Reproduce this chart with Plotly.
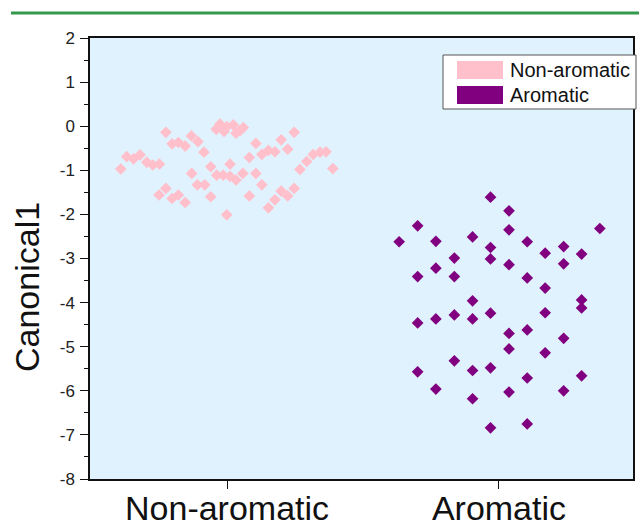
import plotly.graph_objects as go

categories = ["Non-aromatic", "Aromatic"]
y_ticks = [-8, -7, -6, -5, -4, -3, -2, -1, 0, 1, 2]

# Non-aromatic: horizontal jitter offset (in category units) and Canonical1 values
non_jitter = [-0.391, -0.369, -0.344, -0.320, -0.295, -0.273, -0.249, -0.225, -0.202, -0.179,
              -0.154, -0.131, -0.107, -0.085, -0.060, -0.040, -0.026, -0.011, -0.001, 0.023,
              0.033, 0.048, 0.060, -0.130, -0.109, -0.082, -0.060, -0.038, -0.014, 0.011,
              0.011, 0.033, 0.058, -0.001, 0.082, 0.106, 0.106, 0.082, 0.128, 0.128,
              0.152, 0.176, 0.152, 0.176, 0.199, 0.223, 0.247, 0.199, 0.223, 0.247,
              0.268, 0.293, 0.317, 0.342, 0.364, 0.389, -0.250, -0.225, -0.202, -0.179,
              -0.154]
non_values = [-0.97, -0.69, -0.74, -0.65, -0.82, -0.88, -0.86, -0.14, -0.40, -0.37,
              -0.45, -0.22, -0.35, -0.59, -0.92, -0.07, 0.05, -0.12, -0.01, 0.03,
              -0.16, -0.10, -0.03, -1.07, -1.33, -1.33, -1.60, -1.11, -1.11, -0.86,
              -1.14, -1.22, -1.07, -2.01, -0.71, -0.39, -1.07, -1.58, -0.64, -1.33,
              -0.55, -0.58, -1.85, -1.67, -0.31, -0.52, -0.14, -1.47, -1.58, -1.41,
              -0.98, -0.80, -0.64, -0.59, -0.58, -0.96, -1.56, -1.41, -1.64, -1.56,
              -1.73]

# Aromatic: horizontal jitter offset and Canonical1 values
aro_jitter = [-0.031, 0.037, -0.299, -0.367, -0.232, -0.097, 0.037, 0.104, 0.371, -0.031,
              -0.031, 0.170, 0.238, 0.304, -0.164, -0.232, 0.037, 0.238, -0.299, -0.164,
              0.104, 0.170, -0.097, 0.304, 0.304, 0.170, -0.031, -0.164, -0.232, -0.299,
              -0.097, 0.037, 0.104, 0.238, 0.037, 0.170, -0.164, -0.097, -0.031, -0.299,
              0.104, 0.304, -0.232, 0.037, 0.238, -0.097, -0.031, 0.104]
aro_values = [-1.61, -1.92, -2.26, -2.62, -2.61, -2.51, -2.35, -2.62, -2.32, -2.75,
              -3.01, -2.88, -2.73, -2.90, -2.99, -3.22, -3.14, -3.12, -3.41, -3.41,
              -3.44, -3.67, -3.96, -3.94, -4.12, -4.23, -4.24, -4.28, -4.37, -4.46,
              -4.37, -4.70, -4.62, -4.81, -5.05, -5.14, -5.32, -5.54, -5.48, -5.57,
              -5.71, -5.66, -5.96, -6.03, -6.00, -6.18, -6.84, -6.75]

colors = ["#FFC0CB", "#800080"]
FONT = "Arial, Liberation Sans, sans-serif"

fig = go.Figure()
for i, (jit, vals) in enumerate([(non_jitter, non_values), (aro_jitter, aro_values)]):
    fig.add_trace(go.Scatter(
        x=[i + j for j in jit], y=vals, mode="markers", name=categories[i],
        marker=dict(symbol="diamond", size=9, color=colors[i], line=dict(width=0)),
        showlegend=False,
    ))

# plot geometry in px
W, H = 639, 526
L, R, T, B = 90, 633, 38, 479
pw, ph = R - L, B - T

def px(x):
    return (x - L) / pw

def py(y):
    return (B - y) / ph

shapes = [
    # top green rule
    dict(type="line", xref="paper", yref="paper", x0=px(11), x1=px(639), y0=py(13), y1=py(13),
         line=dict(color="#34994a", width=3)),
    # legend box
    dict(type="rect", xref="paper", yref="paper", x0=px(443), x1=px(636), y0=py(109), y1=py(55),
         line=dict(color="#555555", width=1), fillcolor="white"),
]
annotations = []
sw_y = [(61, 79), (86, 104)]
for i, name in enumerate(categories):
    y0, y1 = sw_y[i]
    shapes.append(dict(type="rect", xref="paper", yref="paper", x0=px(457), x1=px(503),
                       y0=py(y1), y1=py(y0), line=dict(width=0), fillcolor=colors[i]))
    annotations.append(dict(xref="paper", yref="paper", x=px(508), y=py((y0 + y1) / 2),
                            text=name, showarrow=False, xanchor="left", yanchor="middle",
                            font=dict(family=FONT, size=20, color="#111111")))

annotations.append(dict(xref="paper", yref="paper", x=px(27), y=py(287), text="Canonical1",
                        textangle=-90, showarrow=False, xanchor="center", yanchor="middle",
                        font=dict(family=FONT, size=34, color="#111111")))

fig.update_layout(
    width=W, height=H,
    margin=dict(l=L, r=W - R, t=T, b=H - B, pad=0, autoexpand=False),
    paper_bgcolor="white",
    plot_bgcolor="#e0f2fd",
    shapes=shapes,
    annotations=annotations,
    showlegend=False,
    xaxis=dict(
        range=[-0.504, 1.493], tickmode="array", tickvals=[0, 1], ticktext=categories,
        showgrid=False, zeroline=False, showline=True, linecolor="#111111", linewidth=1.5,
        mirror=True, ticks="outside", ticklen=8, tickwidth=1.2, tickcolor="#111111",
        ticklabelstandoff=-10, automargin=False,
        tickfont=dict(family=FONT, size=34, color="#111111"),
    ),
    yaxis=dict(
        range=[-8, 2], tickmode="array", tickvals=y_ticks,
        ticktext=[str(v) for v in y_ticks],
        showgrid=False, zeroline=False, showline=True, linecolor="#111111", linewidth=1.5,
        mirror=True, ticks="outside", ticklen=8, tickwidth=1.2, tickcolor="#111111",
        ticklabelstandoff=2, automargin=False,
        tickfont=dict(family=FONT, size=17, color="#222222"),
        minor=dict(dtick=0.5, ticks="outside", ticklen=4, tickwidth=1.2, tickcolor="#111111",
                   showgrid=False),
    ),
)

fig.write_html("out.html")
